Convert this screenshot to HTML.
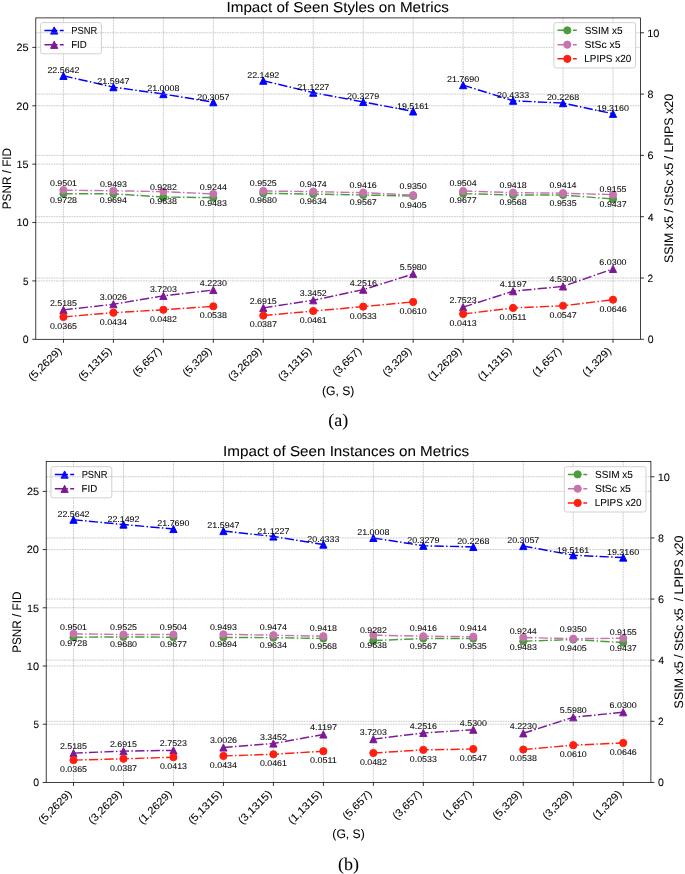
<!DOCTYPE html>
<html><head><meta charset="utf-8"><title>Impact of Seen Styles / Instances on Metrics</title>
<style>html,body{margin:0;padding:0;background:#fff;width:685px;height:874px;overflow:hidden}svg{display:block;will-change:transform}text{font-family:"Liberation Sans",sans-serif;text-rendering:geometricPrecision;stroke:#000;stroke-width:0.06px}</style>
</head><body>
<svg width="685" height="874" viewBox="0 0 685 874">
<rect width="685" height="874" fill="#fff"/>
<path d="M63.45,17.45V339.30 M113.41,17.45V339.30 M163.37,17.45V339.30 M213.33,17.45V339.30 M263.29,17.45V339.30 M313.25,17.45V339.30 M363.21,17.45V339.30 M413.17,17.45V339.30 M463.13,17.45V339.30 M513.09,17.45V339.30 M563.05,17.45V339.30 M613.01,17.45V339.30 M35.80,280.92H640.50 M35.80,222.54H640.50 M35.80,164.15H640.50 M35.80,105.77H640.50 M35.80,47.39H640.50" stroke="#9a9a9a" stroke-width="0.5" stroke-dasharray="1.78,0.77" fill="none"/>
<path d="M63.45,75.83L113.41,87.15L163.37,94.09L213.33,102.20" stroke="#0000ff" stroke-width="1.455" stroke-dasharray="9.31,2.33,1.455,2.33" fill="none"/>
<path d="M263.29,80.68L313.25,92.66L363.21,101.94L413.17,111.42" stroke="#0000ff" stroke-width="1.455" stroke-dasharray="9.31,2.33,1.455,2.33" fill="none"/>
<path d="M463.13,85.12L513.09,100.71L563.05,103.12L613.01,113.76" stroke="#0000ff" stroke-width="1.455" stroke-dasharray="9.31,2.33,1.455,2.33" fill="none"/>
<path d="M63.45,72.23L59.85,79.43L67.05,79.43Z" fill="#0000ff" stroke="#0000ff" stroke-width="0.97" stroke-linejoin="round"/>
<path d="M113.41,83.55L109.81,90.75L117.01,90.75Z" fill="#0000ff" stroke="#0000ff" stroke-width="0.97" stroke-linejoin="round"/>
<path d="M163.37,90.49L159.77,97.69L166.97,97.69Z" fill="#0000ff" stroke="#0000ff" stroke-width="0.97" stroke-linejoin="round"/>
<path d="M213.33,98.60L209.73,105.80L216.93,105.80Z" fill="#0000ff" stroke="#0000ff" stroke-width="0.97" stroke-linejoin="round"/>
<path d="M263.29,77.08L259.69,84.28L266.89,84.28Z" fill="#0000ff" stroke="#0000ff" stroke-width="0.97" stroke-linejoin="round"/>
<path d="M313.25,89.06L309.65,96.26L316.85,96.26Z" fill="#0000ff" stroke="#0000ff" stroke-width="0.97" stroke-linejoin="round"/>
<path d="M363.21,98.34L359.61,105.54L366.81,105.54Z" fill="#0000ff" stroke="#0000ff" stroke-width="0.97" stroke-linejoin="round"/>
<path d="M413.17,107.82L409.57,115.02L416.77,115.02Z" fill="#0000ff" stroke="#0000ff" stroke-width="0.97" stroke-linejoin="round"/>
<path d="M463.13,81.52L459.53,88.72L466.73,88.72Z" fill="#0000ff" stroke="#0000ff" stroke-width="0.97" stroke-linejoin="round"/>
<path d="M513.09,97.11L509.49,104.31L516.69,104.31Z" fill="#0000ff" stroke="#0000ff" stroke-width="0.97" stroke-linejoin="round"/>
<path d="M563.05,99.52L559.45,106.72L566.65,106.72Z" fill="#0000ff" stroke="#0000ff" stroke-width="0.97" stroke-linejoin="round"/>
<path d="M613.01,110.16L609.41,117.36L616.61,117.36Z" fill="#0000ff" stroke="#0000ff" stroke-width="0.97" stroke-linejoin="round"/>
<path d="M63.45,309.89L113.41,304.24L163.37,295.86L213.33,289.99" stroke="#7d1896" stroke-width="1.455" stroke-dasharray="9.31,2.33,1.455,2.33" fill="none"/>
<path d="M263.29,307.87L313.25,300.24L363.21,289.66L413.17,273.94" stroke="#7d1896" stroke-width="1.455" stroke-dasharray="9.31,2.33,1.455,2.33" fill="none"/>
<path d="M463.13,307.16L513.09,291.20L563.05,286.41L613.01,268.89" stroke="#7d1896" stroke-width="1.455" stroke-dasharray="9.31,2.33,1.455,2.33" fill="none"/>
<path d="M63.45,306.29L59.85,313.49L67.05,313.49Z" fill="#7d1896" stroke="#7d1896" stroke-width="0.97" stroke-linejoin="round"/>
<path d="M113.41,300.64L109.81,307.84L117.01,307.84Z" fill="#7d1896" stroke="#7d1896" stroke-width="0.97" stroke-linejoin="round"/>
<path d="M163.37,292.26L159.77,299.46L166.97,299.46Z" fill="#7d1896" stroke="#7d1896" stroke-width="0.97" stroke-linejoin="round"/>
<path d="M213.33,286.39L209.73,293.59L216.93,293.59Z" fill="#7d1896" stroke="#7d1896" stroke-width="0.97" stroke-linejoin="round"/>
<path d="M263.29,304.27L259.69,311.47L266.89,311.47Z" fill="#7d1896" stroke="#7d1896" stroke-width="0.97" stroke-linejoin="round"/>
<path d="M313.25,296.64L309.65,303.84L316.85,303.84Z" fill="#7d1896" stroke="#7d1896" stroke-width="0.97" stroke-linejoin="round"/>
<path d="M363.21,286.06L359.61,293.26L366.81,293.26Z" fill="#7d1896" stroke="#7d1896" stroke-width="0.97" stroke-linejoin="round"/>
<path d="M413.17,270.34L409.57,277.54L416.77,277.54Z" fill="#7d1896" stroke="#7d1896" stroke-width="0.97" stroke-linejoin="round"/>
<path d="M463.13,303.56L459.53,310.76L466.73,310.76Z" fill="#7d1896" stroke="#7d1896" stroke-width="0.97" stroke-linejoin="round"/>
<path d="M513.09,287.60L509.49,294.80L516.69,294.80Z" fill="#7d1896" stroke="#7d1896" stroke-width="0.97" stroke-linejoin="round"/>
<path d="M563.05,282.81L559.45,290.01L566.65,290.01Z" fill="#7d1896" stroke="#7d1896" stroke-width="0.97" stroke-linejoin="round"/>
<path d="M613.01,265.29L609.41,272.49L616.61,272.49Z" fill="#7d1896" stroke="#7d1896" stroke-width="0.97" stroke-linejoin="round"/>
<text x="47.45" y="73.13" font-size="8.32" textLength="31.99" lengthAdjust="spacingAndGlyphs" fill="#000">22.5642</text>
<text x="49.90" y="305.89" font-size="8.32" textLength="27.02" lengthAdjust="spacingAndGlyphs" fill="#000">2.5185</text>
<text x="97.36" y="84.45" font-size="8.32" textLength="32.11" lengthAdjust="spacingAndGlyphs" fill="#000">21.5947</text>
<text x="99.89" y="300.24" font-size="8.32" textLength="27.10" lengthAdjust="spacingAndGlyphs" fill="#000">3.0026</text>
<text x="147.25" y="91.39" font-size="8.32" textLength="32.18" lengthAdjust="spacingAndGlyphs" fill="#000">21.0008</text>
<text x="149.91" y="291.86" font-size="8.32" textLength="26.96" lengthAdjust="spacingAndGlyphs" fill="#000">3.7203</text>
<text x="197.28" y="99.50" font-size="8.32" textLength="32.11" lengthAdjust="spacingAndGlyphs" fill="#000">20.3057</text>
<text x="199.85" y="285.99" font-size="8.32" textLength="27.11" lengthAdjust="spacingAndGlyphs" fill="#000">4.2230</text>
<text x="247.29" y="77.98" font-size="8.32" textLength="31.99" lengthAdjust="spacingAndGlyphs" fill="#000">22.1492</text>
<text x="249.74" y="303.87" font-size="8.32" textLength="27.02" lengthAdjust="spacingAndGlyphs" fill="#000">2.6915</text>
<text x="297.20" y="89.96" font-size="8.32" textLength="32.11" lengthAdjust="spacingAndGlyphs" fill="#000">21.1227</text>
<text x="299.87" y="296.24" font-size="8.32" textLength="26.86" lengthAdjust="spacingAndGlyphs" fill="#000">3.3452</text>
<text x="347.09" y="99.24" font-size="8.32" textLength="32.20" lengthAdjust="spacingAndGlyphs" fill="#000">20.3279</text>
<text x="349.71" y="285.66" font-size="8.32" textLength="27.18" lengthAdjust="spacingAndGlyphs" fill="#000">4.2516</text>
<text x="397.06" y="108.72" font-size="8.32" textLength="31.98" lengthAdjust="spacingAndGlyphs" fill="#000">19.5161</text>
<text x="399.65" y="269.94" font-size="8.32" textLength="27.04" lengthAdjust="spacingAndGlyphs" fill="#000">5.5980</text>
<text x="447.00" y="82.42" font-size="8.32" textLength="32.16" lengthAdjust="spacingAndGlyphs" fill="#000">21.7690</text>
<text x="449.55" y="303.16" font-size="8.32" textLength="27.10" lengthAdjust="spacingAndGlyphs" fill="#000">2.7523</text>
<text x="497.01" y="98.01" font-size="8.32" textLength="32.09" lengthAdjust="spacingAndGlyphs" fill="#000">20.4333</text>
<text x="499.68" y="287.20" font-size="8.32" textLength="27.06" lengthAdjust="spacingAndGlyphs" fill="#000">4.1197</text>
<text x="546.93" y="100.42" font-size="8.32" textLength="32.18" lengthAdjust="spacingAndGlyphs" fill="#000">20.2268</text>
<text x="549.57" y="282.41" font-size="8.32" textLength="27.11" lengthAdjust="spacingAndGlyphs" fill="#000">4.5300</text>
<text x="596.79" y="111.06" font-size="8.32" textLength="32.10" lengthAdjust="spacingAndGlyphs" fill="#000">19.3160</text>
<text x="599.36" y="264.89" font-size="8.32" textLength="27.20" lengthAdjust="spacingAndGlyphs" fill="#000">6.0300</text>
<rect x="40.60" y="22.60" width="60.80" height="31.20" rx="2.2" fill="#fff" fill-opacity="0.8" stroke="#cccccc" stroke-width="0.9"/><path d="M44.40,30.50h19.3" stroke="#0000ff" stroke-width="1.455" stroke-dasharray="9.31,2.33,1.455,2.33" fill="none"/><path d="M54.20,26.90L50.60,34.10L57.80,34.10Z" fill="#0000ff" stroke="#0000ff" stroke-width="0.97" stroke-linejoin="round"/><text x="71.23" y="34.00" font-size="10.28" textLength="25.97" lengthAdjust="spacingAndGlyphs" fill="#000">PSNR</text><path d="M44.40,44.80h19.3" stroke="#7d1896" stroke-width="1.455" stroke-dasharray="9.31,2.33,1.455,2.33" fill="none"/><path d="M54.20,41.20L50.60,48.40L57.80,48.40Z" fill="#7d1896" stroke="#7d1896" stroke-width="0.97" stroke-linejoin="round"/><text x="71.20" y="48.30" font-size="10.28" textLength="15.65" lengthAdjust="spacingAndGlyphs" fill="#000">FID</text>
<path d="M35.80,278.00H640.50 M35.80,216.69H640.50 M35.80,155.39H640.50 M35.80,94.08H640.50 M35.80,32.78H640.50" stroke="#9a9a9a" stroke-width="0.5" stroke-dasharray="1.78,0.77" fill="none"/>
<path d="M63.45,193.69L113.41,193.81L163.37,197.04L213.33,197.62" stroke="#4b9d3b" stroke-width="1.455" stroke-dasharray="9.31,2.33,1.455,2.33" fill="none"/>
<path d="M263.29,193.32L313.25,194.10L363.21,194.99L413.17,196.00" stroke="#4b9d3b" stroke-width="1.455" stroke-dasharray="9.31,2.33,1.455,2.33" fill="none"/>
<path d="M463.13,193.64L513.09,194.96L563.05,195.02L613.01,198.99" stroke="#4b9d3b" stroke-width="1.455" stroke-dasharray="9.31,2.33,1.455,2.33" fill="none"/>
<circle cx="63.45" cy="193.69" r="3.60" fill="#4b9d3b" stroke="#4b9d3b" stroke-width="0.97"/>
<circle cx="113.41" cy="193.81" r="3.60" fill="#4b9d3b" stroke="#4b9d3b" stroke-width="0.97"/>
<circle cx="163.37" cy="197.04" r="3.60" fill="#4b9d3b" stroke="#4b9d3b" stroke-width="0.97"/>
<circle cx="213.33" cy="197.62" r="3.60" fill="#4b9d3b" stroke="#4b9d3b" stroke-width="0.97"/>
<circle cx="263.29" cy="193.32" r="3.60" fill="#4b9d3b" stroke="#4b9d3b" stroke-width="0.97"/>
<circle cx="313.25" cy="194.10" r="3.60" fill="#4b9d3b" stroke="#4b9d3b" stroke-width="0.97"/>
<circle cx="363.21" cy="194.99" r="3.60" fill="#4b9d3b" stroke="#4b9d3b" stroke-width="0.97"/>
<circle cx="413.17" cy="196.00" r="3.60" fill="#4b9d3b" stroke="#4b9d3b" stroke-width="0.97"/>
<circle cx="463.13" cy="193.64" r="3.60" fill="#4b9d3b" stroke="#4b9d3b" stroke-width="0.97"/>
<circle cx="513.09" cy="194.96" r="3.60" fill="#4b9d3b" stroke="#4b9d3b" stroke-width="0.97"/>
<circle cx="563.05" cy="195.02" r="3.60" fill="#4b9d3b" stroke="#4b9d3b" stroke-width="0.97"/>
<circle cx="613.01" cy="198.99" r="3.60" fill="#4b9d3b" stroke="#4b9d3b" stroke-width="0.97"/>
<path d="M63.45,190.21L113.41,190.73L163.37,191.59L213.33,193.96" stroke="#c673ae" stroke-width="1.455" stroke-dasharray="9.31,2.33,1.455,2.33" fill="none"/>
<path d="M263.29,190.94L313.25,191.65L363.21,192.67L413.17,195.16" stroke="#c673ae" stroke-width="1.455" stroke-dasharray="9.31,2.33,1.455,2.33" fill="none"/>
<path d="M463.13,190.99L513.09,192.66L563.05,193.16L613.01,194.67" stroke="#c673ae" stroke-width="1.455" stroke-dasharray="9.31,2.33,1.455,2.33" fill="none"/>
<circle cx="63.45" cy="190.21" r="3.60" fill="#c673ae" stroke="#c673ae" stroke-width="0.97"/>
<circle cx="113.41" cy="190.73" r="3.60" fill="#c673ae" stroke="#c673ae" stroke-width="0.97"/>
<circle cx="163.37" cy="191.59" r="3.60" fill="#c673ae" stroke="#c673ae" stroke-width="0.97"/>
<circle cx="213.33" cy="193.96" r="3.60" fill="#c673ae" stroke="#c673ae" stroke-width="0.97"/>
<circle cx="263.29" cy="190.94" r="3.60" fill="#c673ae" stroke="#c673ae" stroke-width="0.97"/>
<circle cx="313.25" cy="191.65" r="3.60" fill="#c673ae" stroke="#c673ae" stroke-width="0.97"/>
<circle cx="363.21" cy="192.67" r="3.60" fill="#c673ae" stroke="#c673ae" stroke-width="0.97"/>
<circle cx="413.17" cy="195.16" r="3.60" fill="#c673ae" stroke="#c673ae" stroke-width="0.97"/>
<circle cx="463.13" cy="190.99" r="3.60" fill="#c673ae" stroke="#c673ae" stroke-width="0.97"/>
<circle cx="513.09" cy="192.66" r="3.60" fill="#c673ae" stroke="#c673ae" stroke-width="0.97"/>
<circle cx="563.05" cy="193.16" r="3.60" fill="#c673ae" stroke="#c673ae" stroke-width="0.97"/>
<circle cx="613.01" cy="194.67" r="3.60" fill="#c673ae" stroke="#c673ae" stroke-width="0.97"/>
<path d="M63.45,316.92L113.41,312.69L163.37,309.75L213.33,306.32" stroke="#ff1f10" stroke-width="1.455" stroke-dasharray="9.31,2.33,1.455,2.33" fill="none"/>
<path d="M263.29,315.58L313.25,311.04L363.21,306.62L413.17,301.90" stroke="#ff1f10" stroke-width="1.455" stroke-dasharray="9.31,2.33,1.455,2.33" fill="none"/>
<path d="M463.13,313.98L513.09,307.97L563.05,305.77L613.01,299.70" stroke="#ff1f10" stroke-width="1.455" stroke-dasharray="9.31,2.33,1.455,2.33" fill="none"/>
<circle cx="63.45" cy="316.92" r="3.60" fill="#ff1f10" stroke="#ff1f10" stroke-width="0.97"/>
<circle cx="113.41" cy="312.69" r="3.60" fill="#ff1f10" stroke="#ff1f10" stroke-width="0.97"/>
<circle cx="163.37" cy="309.75" r="3.60" fill="#ff1f10" stroke="#ff1f10" stroke-width="0.97"/>
<circle cx="213.33" cy="306.32" r="3.60" fill="#ff1f10" stroke="#ff1f10" stroke-width="0.97"/>
<circle cx="263.29" cy="315.58" r="3.60" fill="#ff1f10" stroke="#ff1f10" stroke-width="0.97"/>
<circle cx="313.25" cy="311.04" r="3.60" fill="#ff1f10" stroke="#ff1f10" stroke-width="0.97"/>
<circle cx="363.21" cy="306.62" r="3.60" fill="#ff1f10" stroke="#ff1f10" stroke-width="0.97"/>
<circle cx="413.17" cy="301.90" r="3.60" fill="#ff1f10" stroke="#ff1f10" stroke-width="0.97"/>
<circle cx="463.13" cy="313.98" r="3.60" fill="#ff1f10" stroke="#ff1f10" stroke-width="0.97"/>
<circle cx="513.09" cy="307.97" r="3.60" fill="#ff1f10" stroke="#ff1f10" stroke-width="0.97"/>
<circle cx="563.05" cy="305.77" r="3.60" fill="#ff1f10" stroke="#ff1f10" stroke-width="0.97"/>
<circle cx="613.01" cy="299.70" r="3.60" fill="#ff1f10" stroke="#ff1f10" stroke-width="0.97"/>
<text x="49.99" y="186.49" font-size="8.32" textLength="27.00" lengthAdjust="spacingAndGlyphs" fill="#000">0.9501</text>
<text x="49.90" y="202.66" font-size="8.32" textLength="27.15" lengthAdjust="spacingAndGlyphs" fill="#000">0.9728</text>
<text x="49.97" y="328.82" font-size="8.32" textLength="26.98" lengthAdjust="spacingAndGlyphs" fill="#000">0.0365</text>
<text x="99.90" y="186.61" font-size="8.32" textLength="27.06" lengthAdjust="spacingAndGlyphs" fill="#000">0.9493</text>
<text x="99.81" y="203.18" font-size="8.32" textLength="27.12" lengthAdjust="spacingAndGlyphs" fill="#000">0.9694</text>
<text x="99.81" y="324.59" font-size="8.32" textLength="27.12" lengthAdjust="spacingAndGlyphs" fill="#000">0.0434</text>
<text x="149.94" y="189.84" font-size="8.32" textLength="26.95" lengthAdjust="spacingAndGlyphs" fill="#000">0.9282</text>
<text x="149.82" y="204.04" font-size="8.32" textLength="27.15" lengthAdjust="spacingAndGlyphs" fill="#000">0.9638</text>
<text x="149.94" y="321.65" font-size="8.32" textLength="26.95" lengthAdjust="spacingAndGlyphs" fill="#000">0.0482</text>
<text x="199.73" y="190.42" font-size="8.32" textLength="27.12" lengthAdjust="spacingAndGlyphs" fill="#000">0.9244</text>
<text x="199.82" y="206.41" font-size="8.32" textLength="27.06" lengthAdjust="spacingAndGlyphs" fill="#000">0.9483</text>
<text x="199.78" y="318.22" font-size="8.32" textLength="27.15" lengthAdjust="spacingAndGlyphs" fill="#000">0.0538</text>
<text x="249.81" y="186.12" font-size="8.32" textLength="26.98" lengthAdjust="spacingAndGlyphs" fill="#000">0.9525</text>
<text x="249.73" y="203.39" font-size="8.32" textLength="27.12" lengthAdjust="spacingAndGlyphs" fill="#000">0.9680</text>
<text x="249.80" y="327.48" font-size="8.32" textLength="27.07" lengthAdjust="spacingAndGlyphs" fill="#000">0.0387</text>
<text x="299.65" y="186.90" font-size="8.32" textLength="27.12" lengthAdjust="spacingAndGlyphs" fill="#000">0.9474</text>
<text x="299.65" y="204.10" font-size="8.32" textLength="27.12" lengthAdjust="spacingAndGlyphs" fill="#000">0.9634</text>
<text x="299.79" y="322.94" font-size="8.32" textLength="27.00" lengthAdjust="spacingAndGlyphs" fill="#000">0.0461</text>
<text x="349.63" y="187.79" font-size="8.32" textLength="27.19" lengthAdjust="spacingAndGlyphs" fill="#000">0.9416</text>
<text x="349.72" y="205.12" font-size="8.32" textLength="27.07" lengthAdjust="spacingAndGlyphs" fill="#000">0.9567</text>
<text x="349.70" y="318.52" font-size="8.32" textLength="27.06" lengthAdjust="spacingAndGlyphs" fill="#000">0.0533</text>
<text x="399.61" y="188.80" font-size="8.32" textLength="27.12" lengthAdjust="spacingAndGlyphs" fill="#000">0.9350</text>
<text x="399.69" y="207.61" font-size="8.32" textLength="26.98" lengthAdjust="spacingAndGlyphs" fill="#000">0.9405</text>
<text x="399.61" y="313.80" font-size="8.32" textLength="27.12" lengthAdjust="spacingAndGlyphs" fill="#000">0.0610</text>
<text x="449.53" y="186.44" font-size="8.32" textLength="27.12" lengthAdjust="spacingAndGlyphs" fill="#000">0.9504</text>
<text x="449.64" y="203.44" font-size="8.32" textLength="27.07" lengthAdjust="spacingAndGlyphs" fill="#000">0.9677</text>
<text x="449.62" y="325.88" font-size="8.32" textLength="27.06" lengthAdjust="spacingAndGlyphs" fill="#000">0.0413</text>
<text x="499.54" y="187.76" font-size="8.32" textLength="27.15" lengthAdjust="spacingAndGlyphs" fill="#000">0.9418</text>
<text x="499.54" y="205.11" font-size="8.32" textLength="27.15" lengthAdjust="spacingAndGlyphs" fill="#000">0.9568</text>
<text x="499.63" y="319.87" font-size="8.32" textLength="27.00" lengthAdjust="spacingAndGlyphs" fill="#000">0.0511</text>
<text x="549.45" y="187.82" font-size="8.32" textLength="27.12" lengthAdjust="spacingAndGlyphs" fill="#000">0.9414</text>
<text x="549.57" y="205.61" font-size="8.32" textLength="26.98" lengthAdjust="spacingAndGlyphs" fill="#000">0.9535</text>
<text x="549.56" y="317.67" font-size="8.32" textLength="27.07" lengthAdjust="spacingAndGlyphs" fill="#000">0.0547</text>
<text x="599.53" y="191.79" font-size="8.32" textLength="26.98" lengthAdjust="spacingAndGlyphs" fill="#000">0.9155</text>
<text x="599.52" y="207.12" font-size="8.32" textLength="27.07" lengthAdjust="spacingAndGlyphs" fill="#000">0.9437</text>
<text x="599.43" y="311.60" font-size="8.32" textLength="27.19" lengthAdjust="spacingAndGlyphs" fill="#000">0.0646</text>
<rect x="553.90" y="22.65" width="81.70" height="45.30" rx="2.2" fill="#fff" fill-opacity="0.8" stroke="#cccccc" stroke-width="0.9"/><path d="M557.50,30.35h19.3" stroke="#4b9d3b" stroke-width="1.455" stroke-dasharray="9.31,2.33,1.455,2.33" fill="none"/><circle cx="567.30" cy="30.35" r="3.60" fill="#4b9d3b" stroke="#4b9d3b" stroke-width="0.97"/><text x="584.64" y="33.85" font-size="10.28" textLength="37.93" lengthAdjust="spacingAndGlyphs" fill="#000">SSIM x5</text><path d="M557.50,44.65h19.3" stroke="#c673ae" stroke-width="1.455" stroke-dasharray="9.31,2.33,1.455,2.33" fill="none"/><circle cx="567.30" cy="44.65" r="3.60" fill="#c673ae" stroke="#c673ae" stroke-width="0.97"/><text x="584.63" y="48.15" font-size="10.28" textLength="35.87" lengthAdjust="spacingAndGlyphs" fill="#000">StSc x5</text><path d="M557.50,58.85h19.3" stroke="#ff1f10" stroke-width="1.455" stroke-dasharray="9.31,2.33,1.455,2.33" fill="none"/><circle cx="567.30" cy="58.85" r="3.60" fill="#ff1f10" stroke="#ff1f10" stroke-width="0.97"/><text x="584.29" y="62.35" font-size="10.28" textLength="46.89" lengthAdjust="spacingAndGlyphs" fill="#000">LPIPS x20</text>
<rect x="35.80" y="17.90" width="604.70" height="321.40" fill="none" stroke="#000" stroke-width="0.75"/>
<path d="M63.45,339.30v3.5 M113.41,339.30v3.5 M163.37,339.30v3.5 M213.33,339.30v3.5 M263.29,339.30v3.5 M313.25,339.30v3.5 M363.21,339.30v3.5 M413.17,339.30v3.5 M463.13,339.30v3.5 M513.09,339.30v3.5 M563.05,339.30v3.5 M613.01,339.30v3.5 M35.80,339.30h-3.5 M35.80,280.92h-3.5 M35.80,222.54h-3.5 M35.80,164.15h-3.5 M35.80,105.77h-3.5 M35.80,47.39h-3.5 M640.50,339.30h3.5 M640.50,278.00h3.5 M640.50,216.69h3.5 M640.50,155.39h3.5 M640.50,94.08h3.5 M640.50,32.78h3.5" stroke="#000" stroke-width="0.8" fill="none"/>
<text x="22.75" y="343.15" font-size="10.60" textLength="5.86" lengthAdjust="spacingAndGlyphs" fill="#000">0</text>
<text x="23.08" y="284.77" font-size="10.60" textLength="5.53" lengthAdjust="spacingAndGlyphs" fill="#000">5</text>
<text x="16.40" y="226.39" font-size="10.60" textLength="12.23" lengthAdjust="spacingAndGlyphs" fill="#000">10</text>
<text x="16.62" y="168.00" font-size="10.60" textLength="12.03" lengthAdjust="spacingAndGlyphs" fill="#000">15</text>
<text x="16.31" y="109.62" font-size="10.60" textLength="12.32" lengthAdjust="spacingAndGlyphs" fill="#000">20</text>
<text x="16.53" y="51.24" font-size="10.60" textLength="12.12" lengthAdjust="spacingAndGlyphs" fill="#000">25</text>
<text x="647.69" y="343.15" font-size="10.60" textLength="5.86" lengthAdjust="spacingAndGlyphs" fill="#000">0</text>
<text x="647.59" y="281.85" font-size="10.60" textLength="5.65" lengthAdjust="spacingAndGlyphs" fill="#000">2</text>
<text x="647.86" y="220.54" font-size="10.60" textLength="5.86" lengthAdjust="spacingAndGlyphs" fill="#000">4</text>
<text x="647.55" y="159.24" font-size="10.60" textLength="6.07" lengthAdjust="spacingAndGlyphs" fill="#000">6</text>
<text x="647.64" y="97.93" font-size="10.60" textLength="5.93" lengthAdjust="spacingAndGlyphs" fill="#000">8</text>
<text x="647.26" y="36.63" font-size="10.60" textLength="12.23" lengthAdjust="spacingAndGlyphs" fill="#000">10</text>
<text x="32.23" y="381.02" font-size="10.60" textLength="42.49" lengthAdjust="spacingAndGlyphs" fill="#000" transform="rotate(-45 32.94 381.02)">(5,2629)</text>
<text x="82.19" y="381.02" font-size="10.60" textLength="42.49" lengthAdjust="spacingAndGlyphs" fill="#000" transform="rotate(-45 82.90 381.02)">(5,1315)</text>
<text x="136.65" y="376.52" font-size="10.60" textLength="36.13" lengthAdjust="spacingAndGlyphs" fill="#000" transform="rotate(-45 137.35 376.52)">(5,657)</text>
<text x="186.61" y="376.52" font-size="10.60" textLength="36.13" lengthAdjust="spacingAndGlyphs" fill="#000" transform="rotate(-45 187.31 376.52)">(5,329)</text>
<text x="232.07" y="381.02" font-size="10.60" textLength="42.49" lengthAdjust="spacingAndGlyphs" fill="#000" transform="rotate(-45 232.78 381.02)">(3,2629)</text>
<text x="282.03" y="381.02" font-size="10.60" textLength="42.49" lengthAdjust="spacingAndGlyphs" fill="#000" transform="rotate(-45 282.74 381.02)">(3,1315)</text>
<text x="336.49" y="376.52" font-size="10.60" textLength="36.13" lengthAdjust="spacingAndGlyphs" fill="#000" transform="rotate(-45 337.19 376.52)">(3,657)</text>
<text x="386.45" y="376.52" font-size="10.60" textLength="36.13" lengthAdjust="spacingAndGlyphs" fill="#000" transform="rotate(-45 387.15 376.52)">(3,329)</text>
<text x="431.91" y="381.02" font-size="10.60" textLength="42.49" lengthAdjust="spacingAndGlyphs" fill="#000" transform="rotate(-45 432.62 381.02)">(1,2629)</text>
<text x="481.87" y="381.02" font-size="10.60" textLength="42.49" lengthAdjust="spacingAndGlyphs" fill="#000" transform="rotate(-45 482.58 381.02)">(1,1315)</text>
<text x="536.33" y="376.52" font-size="10.60" textLength="36.13" lengthAdjust="spacingAndGlyphs" fill="#000" transform="rotate(-45 537.03 376.52)">(1,657)</text>
<text x="586.29" y="376.52" font-size="10.60" textLength="36.13" lengthAdjust="spacingAndGlyphs" fill="#000" transform="rotate(-45 586.99 376.52)">(1,329)</text>
<text x="-19.88" y="178.38" font-size="12.35" textLength="61.36" lengthAdjust="spacingAndGlyphs" fill="#000" transform="rotate(-90 11.00 178.38)">PSNR / FID</text>
<text x="588.05" y="178.38" font-size="12.35" textLength="169.02" lengthAdjust="spacingAndGlyphs" fill="#000" transform="rotate(-90 672.60 178.38)" xml:space="preserve">SSIM x5 / StSc x5 / LPIPS x20</text>
<text x="321.94" y="394.50" font-size="12.35" textLength="32.43" lengthAdjust="spacingAndGlyphs" fill="#000">(G, S)</text>
<text x="226.50" y="11.85" font-size="14.36" textLength="222.44" lengthAdjust="spacingAndGlyphs" fill="#000">Impact of Seen Styles on Metrics</text>
<text x="338.15" y="425.80" style='font-family:"Liberation Serif", serif;font-size:18.00px' text-anchor="middle" fill="#000">(a)</text>
<path d="M73.50,461.50V782.45 M123.47,461.50V782.45 M173.45,461.50V782.45 M223.43,461.50V782.45 M273.40,461.50V782.45 M323.38,461.50V782.45 M373.35,461.50V782.45 M423.32,461.50V782.45 M473.30,461.50V782.45 M523.28,461.50V782.45 M573.25,461.50V782.45 M623.23,461.50V782.45 M46.20,724.23H650.90 M46.20,666.01H650.90 M46.20,607.79H650.90 M46.20,549.58H650.90 M46.20,491.36H650.90" stroke="#9a9a9a" stroke-width="0.5" stroke-dasharray="1.78,0.77" fill="none"/>
<path d="M73.50,519.72L123.47,524.55L173.45,528.98" stroke="#0000ff" stroke-width="1.455" stroke-dasharray="9.31,2.33,1.455,2.33" fill="none"/>
<path d="M223.43,531.01L273.40,536.50L323.38,544.53" stroke="#0000ff" stroke-width="1.455" stroke-dasharray="9.31,2.33,1.455,2.33" fill="none"/>
<path d="M373.35,537.92L423.32,545.76L473.30,546.93" stroke="#0000ff" stroke-width="1.455" stroke-dasharray="9.31,2.33,1.455,2.33" fill="none"/>
<path d="M523.28,546.02L573.25,555.21L623.23,557.54" stroke="#0000ff" stroke-width="1.455" stroke-dasharray="9.31,2.33,1.455,2.33" fill="none"/>
<path d="M73.50,516.12L69.90,523.32L77.10,523.32Z" fill="#0000ff" stroke="#0000ff" stroke-width="0.97" stroke-linejoin="round"/>
<path d="M123.47,520.95L119.88,528.15L127.07,528.15Z" fill="#0000ff" stroke="#0000ff" stroke-width="0.97" stroke-linejoin="round"/>
<path d="M173.45,525.38L169.85,532.58L177.05,532.58Z" fill="#0000ff" stroke="#0000ff" stroke-width="0.97" stroke-linejoin="round"/>
<path d="M223.43,527.41L219.83,534.61L227.03,534.61Z" fill="#0000ff" stroke="#0000ff" stroke-width="0.97" stroke-linejoin="round"/>
<path d="M273.40,532.90L269.80,540.10L277.00,540.10Z" fill="#0000ff" stroke="#0000ff" stroke-width="0.97" stroke-linejoin="round"/>
<path d="M323.38,540.93L319.77,548.13L326.98,548.13Z" fill="#0000ff" stroke="#0000ff" stroke-width="0.97" stroke-linejoin="round"/>
<path d="M373.35,534.32L369.75,541.52L376.95,541.52Z" fill="#0000ff" stroke="#0000ff" stroke-width="0.97" stroke-linejoin="round"/>
<path d="M423.32,542.16L419.72,549.36L426.93,549.36Z" fill="#0000ff" stroke="#0000ff" stroke-width="0.97" stroke-linejoin="round"/>
<path d="M473.30,543.33L469.70,550.53L476.90,550.53Z" fill="#0000ff" stroke="#0000ff" stroke-width="0.97" stroke-linejoin="round"/>
<path d="M523.28,542.42L519.68,549.62L526.88,549.62Z" fill="#0000ff" stroke="#0000ff" stroke-width="0.97" stroke-linejoin="round"/>
<path d="M573.25,551.61L569.65,558.81L576.85,558.81Z" fill="#0000ff" stroke="#0000ff" stroke-width="0.97" stroke-linejoin="round"/>
<path d="M623.23,553.94L619.62,561.14L626.83,561.14Z" fill="#0000ff" stroke="#0000ff" stroke-width="0.97" stroke-linejoin="round"/>
<path d="M73.50,753.13L123.47,751.11L173.45,750.40" stroke="#7d1896" stroke-width="1.455" stroke-dasharray="9.31,2.33,1.455,2.33" fill="none"/>
<path d="M223.43,747.49L273.40,743.50L323.38,734.48" stroke="#7d1896" stroke-width="1.455" stroke-dasharray="9.31,2.33,1.455,2.33" fill="none"/>
<path d="M373.35,739.13L423.32,732.95L473.30,729.70" stroke="#7d1896" stroke-width="1.455" stroke-dasharray="9.31,2.33,1.455,2.33" fill="none"/>
<path d="M523.28,733.28L573.25,717.27L623.23,712.24" stroke="#7d1896" stroke-width="1.455" stroke-dasharray="9.31,2.33,1.455,2.33" fill="none"/>
<path d="M73.50,749.53L69.90,756.73L77.10,756.73Z" fill="#7d1896" stroke="#7d1896" stroke-width="0.97" stroke-linejoin="round"/>
<path d="M123.47,747.51L119.88,754.71L127.07,754.71Z" fill="#7d1896" stroke="#7d1896" stroke-width="0.97" stroke-linejoin="round"/>
<path d="M173.45,746.80L169.85,754.00L177.05,754.00Z" fill="#7d1896" stroke="#7d1896" stroke-width="0.97" stroke-linejoin="round"/>
<path d="M223.43,743.89L219.83,751.09L227.03,751.09Z" fill="#7d1896" stroke="#7d1896" stroke-width="0.97" stroke-linejoin="round"/>
<path d="M273.40,739.90L269.80,747.10L277.00,747.10Z" fill="#7d1896" stroke="#7d1896" stroke-width="0.97" stroke-linejoin="round"/>
<path d="M323.38,730.88L319.77,738.08L326.98,738.08Z" fill="#7d1896" stroke="#7d1896" stroke-width="0.97" stroke-linejoin="round"/>
<path d="M373.35,735.53L369.75,742.73L376.95,742.73Z" fill="#7d1896" stroke="#7d1896" stroke-width="0.97" stroke-linejoin="round"/>
<path d="M423.32,729.35L419.72,736.55L426.93,736.55Z" fill="#7d1896" stroke="#7d1896" stroke-width="0.97" stroke-linejoin="round"/>
<path d="M473.30,726.10L469.70,733.30L476.90,733.30Z" fill="#7d1896" stroke="#7d1896" stroke-width="0.97" stroke-linejoin="round"/>
<path d="M523.28,729.68L519.68,736.88L526.88,736.88Z" fill="#7d1896" stroke="#7d1896" stroke-width="0.97" stroke-linejoin="round"/>
<path d="M573.25,713.67L569.65,720.87L576.85,720.87Z" fill="#7d1896" stroke="#7d1896" stroke-width="0.97" stroke-linejoin="round"/>
<path d="M623.23,708.64L619.62,715.84L626.83,715.84Z" fill="#7d1896" stroke="#7d1896" stroke-width="0.97" stroke-linejoin="round"/>
<text x="57.50" y="517.02" font-size="8.32" textLength="31.99" lengthAdjust="spacingAndGlyphs" fill="#000">22.5642</text>
<text x="59.95" y="749.13" font-size="8.32" textLength="27.02" lengthAdjust="spacingAndGlyphs" fill="#000">2.5185</text>
<text x="107.48" y="521.85" font-size="8.32" textLength="31.99" lengthAdjust="spacingAndGlyphs" fill="#000">22.1492</text>
<text x="109.93" y="747.11" font-size="8.32" textLength="27.02" lengthAdjust="spacingAndGlyphs" fill="#000">2.6915</text>
<text x="157.32" y="526.28" font-size="8.32" textLength="32.16" lengthAdjust="spacingAndGlyphs" fill="#000">21.7690</text>
<text x="159.87" y="746.40" font-size="8.32" textLength="27.10" lengthAdjust="spacingAndGlyphs" fill="#000">2.7523</text>
<text x="207.37" y="528.31" font-size="8.32" textLength="32.11" lengthAdjust="spacingAndGlyphs" fill="#000">21.5947</text>
<text x="209.90" y="743.49" font-size="8.32" textLength="27.10" lengthAdjust="spacingAndGlyphs" fill="#000">3.0026</text>
<text x="257.35" y="533.80" font-size="8.32" textLength="32.11" lengthAdjust="spacingAndGlyphs" fill="#000">21.1227</text>
<text x="260.02" y="739.50" font-size="8.32" textLength="26.86" lengthAdjust="spacingAndGlyphs" fill="#000">3.3452</text>
<text x="307.30" y="541.83" font-size="8.32" textLength="32.09" lengthAdjust="spacingAndGlyphs" fill="#000">20.4333</text>
<text x="309.97" y="730.48" font-size="8.32" textLength="27.06" lengthAdjust="spacingAndGlyphs" fill="#000">4.1197</text>
<text x="357.23" y="535.22" font-size="8.32" textLength="32.18" lengthAdjust="spacingAndGlyphs" fill="#000">21.0008</text>
<text x="359.89" y="735.13" font-size="8.32" textLength="26.96" lengthAdjust="spacingAndGlyphs" fill="#000">3.7203</text>
<text x="407.21" y="543.06" font-size="8.32" textLength="32.20" lengthAdjust="spacingAndGlyphs" fill="#000">20.3279</text>
<text x="409.83" y="728.95" font-size="8.32" textLength="27.18" lengthAdjust="spacingAndGlyphs" fill="#000">4.2516</text>
<text x="457.18" y="544.23" font-size="8.32" textLength="32.18" lengthAdjust="spacingAndGlyphs" fill="#000">20.2268</text>
<text x="459.82" y="725.70" font-size="8.32" textLength="27.11" lengthAdjust="spacingAndGlyphs" fill="#000">4.5300</text>
<text x="507.22" y="543.32" font-size="8.32" textLength="32.11" lengthAdjust="spacingAndGlyphs" fill="#000">20.3057</text>
<text x="509.79" y="729.28" font-size="8.32" textLength="27.11" lengthAdjust="spacingAndGlyphs" fill="#000">4.2230</text>
<text x="557.14" y="552.51" font-size="8.32" textLength="31.98" lengthAdjust="spacingAndGlyphs" fill="#000">19.5161</text>
<text x="559.73" y="713.27" font-size="8.32" textLength="27.04" lengthAdjust="spacingAndGlyphs" fill="#000">5.5980</text>
<text x="607.01" y="554.84" font-size="8.32" textLength="32.10" lengthAdjust="spacingAndGlyphs" fill="#000">19.3160</text>
<text x="609.57" y="708.24" font-size="8.32" textLength="27.20" lengthAdjust="spacingAndGlyphs" fill="#000">6.0300</text>
<rect x="51.00" y="466.65" width="60.80" height="31.20" rx="2.2" fill="#fff" fill-opacity="0.8" stroke="#cccccc" stroke-width="0.9"/><path d="M54.80,474.55h19.3" stroke="#0000ff" stroke-width="1.455" stroke-dasharray="9.31,2.33,1.455,2.33" fill="none"/><path d="M64.60,470.95L61.00,478.15L68.20,478.15Z" fill="#0000ff" stroke="#0000ff" stroke-width="0.97" stroke-linejoin="round"/><text x="81.63" y="478.05" font-size="10.28" textLength="25.97" lengthAdjust="spacingAndGlyphs" fill="#000">PSNR</text><path d="M54.80,488.85h19.3" stroke="#7d1896" stroke-width="1.455" stroke-dasharray="9.31,2.33,1.455,2.33" fill="none"/><path d="M64.60,485.25L61.00,492.45L68.20,492.45Z" fill="#7d1896" stroke="#7d1896" stroke-width="0.97" stroke-linejoin="round"/><text x="81.60" y="492.35" font-size="10.28" textLength="15.65" lengthAdjust="spacingAndGlyphs" fill="#000">FID</text>
<path d="M46.20,721.32H650.90 M46.20,660.18H650.90 M46.20,599.05H650.90 M46.20,537.92H650.90 M46.20,476.78H650.90" stroke="#9a9a9a" stroke-width="0.5" stroke-dasharray="1.78,0.77" fill="none"/>
<path d="M73.50,637.24L123.47,636.88L173.45,637.20" stroke="#4b9d3b" stroke-width="1.455" stroke-dasharray="9.31,2.33,1.455,2.33" fill="none"/>
<path d="M223.43,637.37L273.40,637.66L323.38,638.51" stroke="#4b9d3b" stroke-width="1.455" stroke-dasharray="9.31,2.33,1.455,2.33" fill="none"/>
<path d="M373.35,640.59L423.32,638.54L473.30,638.57" stroke="#4b9d3b" stroke-width="1.455" stroke-dasharray="9.31,2.33,1.455,2.33" fill="none"/>
<path d="M523.28,641.17L573.25,639.55L623.23,642.53" stroke="#4b9d3b" stroke-width="1.455" stroke-dasharray="9.31,2.33,1.455,2.33" fill="none"/>
<circle cx="73.50" cy="637.24" r="3.60" fill="#4b9d3b" stroke="#4b9d3b" stroke-width="0.97"/>
<circle cx="123.47" cy="636.88" r="3.60" fill="#4b9d3b" stroke="#4b9d3b" stroke-width="0.97"/>
<circle cx="173.45" cy="637.20" r="3.60" fill="#4b9d3b" stroke="#4b9d3b" stroke-width="0.97"/>
<circle cx="223.43" cy="637.37" r="3.60" fill="#4b9d3b" stroke="#4b9d3b" stroke-width="0.97"/>
<circle cx="273.40" cy="637.66" r="3.60" fill="#4b9d3b" stroke="#4b9d3b" stroke-width="0.97"/>
<circle cx="323.38" cy="638.51" r="3.60" fill="#4b9d3b" stroke="#4b9d3b" stroke-width="0.97"/>
<circle cx="373.35" cy="640.59" r="3.60" fill="#4b9d3b" stroke="#4b9d3b" stroke-width="0.97"/>
<circle cx="423.32" cy="638.54" r="3.60" fill="#4b9d3b" stroke="#4b9d3b" stroke-width="0.97"/>
<circle cx="473.30" cy="638.57" r="3.60" fill="#4b9d3b" stroke="#4b9d3b" stroke-width="0.97"/>
<circle cx="523.28" cy="641.17" r="3.60" fill="#4b9d3b" stroke="#4b9d3b" stroke-width="0.97"/>
<circle cx="573.25" cy="639.55" r="3.60" fill="#4b9d3b" stroke="#4b9d3b" stroke-width="0.97"/>
<circle cx="623.23" cy="642.53" r="3.60" fill="#4b9d3b" stroke="#4b9d3b" stroke-width="0.97"/>
<path d="M73.50,633.77L123.47,634.51L173.45,634.55" stroke="#c673ae" stroke-width="1.455" stroke-dasharray="9.31,2.33,1.455,2.33" fill="none"/>
<path d="M223.43,634.29L273.40,635.21L323.38,636.22" stroke="#c673ae" stroke-width="1.455" stroke-dasharray="9.31,2.33,1.455,2.33" fill="none"/>
<path d="M373.35,635.15L423.32,636.23L473.30,636.72" stroke="#c673ae" stroke-width="1.455" stroke-dasharray="9.31,2.33,1.455,2.33" fill="none"/>
<path d="M523.28,637.52L573.25,638.71L623.23,638.22" stroke="#c673ae" stroke-width="1.455" stroke-dasharray="9.31,2.33,1.455,2.33" fill="none"/>
<circle cx="73.50" cy="633.77" r="3.60" fill="#c673ae" stroke="#c673ae" stroke-width="0.97"/>
<circle cx="123.47" cy="634.51" r="3.60" fill="#c673ae" stroke="#c673ae" stroke-width="0.97"/>
<circle cx="173.45" cy="634.55" r="3.60" fill="#c673ae" stroke="#c673ae" stroke-width="0.97"/>
<circle cx="223.43" cy="634.29" r="3.60" fill="#c673ae" stroke="#c673ae" stroke-width="0.97"/>
<circle cx="273.40" cy="635.21" r="3.60" fill="#c673ae" stroke="#c673ae" stroke-width="0.97"/>
<circle cx="323.38" cy="636.22" r="3.60" fill="#c673ae" stroke="#c673ae" stroke-width="0.97"/>
<circle cx="373.35" cy="635.15" r="3.60" fill="#c673ae" stroke="#c673ae" stroke-width="0.97"/>
<circle cx="423.32" cy="636.23" r="3.60" fill="#c673ae" stroke="#c673ae" stroke-width="0.97"/>
<circle cx="473.30" cy="636.72" r="3.60" fill="#c673ae" stroke="#c673ae" stroke-width="0.97"/>
<circle cx="523.28" cy="637.52" r="3.60" fill="#c673ae" stroke="#c673ae" stroke-width="0.97"/>
<circle cx="573.25" cy="638.71" r="3.60" fill="#c673ae" stroke="#c673ae" stroke-width="0.97"/>
<circle cx="623.23" cy="638.22" r="3.60" fill="#c673ae" stroke="#c673ae" stroke-width="0.97"/>
<path d="M73.50,760.14L123.47,758.79L173.45,757.20" stroke="#ff1f10" stroke-width="1.455" stroke-dasharray="9.31,2.33,1.455,2.33" fill="none"/>
<path d="M223.43,755.92L273.40,754.27L323.38,751.21" stroke="#ff1f10" stroke-width="1.455" stroke-dasharray="9.31,2.33,1.455,2.33" fill="none"/>
<path d="M373.35,752.98L423.32,749.87L473.30,749.01" stroke="#ff1f10" stroke-width="1.455" stroke-dasharray="9.31,2.33,1.455,2.33" fill="none"/>
<path d="M523.28,749.56L573.25,745.16L623.23,742.96" stroke="#ff1f10" stroke-width="1.455" stroke-dasharray="9.31,2.33,1.455,2.33" fill="none"/>
<circle cx="73.50" cy="760.14" r="3.60" fill="#ff1f10" stroke="#ff1f10" stroke-width="0.97"/>
<circle cx="123.47" cy="758.79" r="3.60" fill="#ff1f10" stroke="#ff1f10" stroke-width="0.97"/>
<circle cx="173.45" cy="757.20" r="3.60" fill="#ff1f10" stroke="#ff1f10" stroke-width="0.97"/>
<circle cx="223.43" cy="755.92" r="3.60" fill="#ff1f10" stroke="#ff1f10" stroke-width="0.97"/>
<circle cx="273.40" cy="754.27" r="3.60" fill="#ff1f10" stroke="#ff1f10" stroke-width="0.97"/>
<circle cx="323.38" cy="751.21" r="3.60" fill="#ff1f10" stroke="#ff1f10" stroke-width="0.97"/>
<circle cx="373.35" cy="752.98" r="3.60" fill="#ff1f10" stroke="#ff1f10" stroke-width="0.97"/>
<circle cx="423.32" cy="749.87" r="3.60" fill="#ff1f10" stroke="#ff1f10" stroke-width="0.97"/>
<circle cx="473.30" cy="749.01" r="3.60" fill="#ff1f10" stroke="#ff1f10" stroke-width="0.97"/>
<circle cx="523.28" cy="749.56" r="3.60" fill="#ff1f10" stroke="#ff1f10" stroke-width="0.97"/>
<circle cx="573.25" cy="745.16" r="3.60" fill="#ff1f10" stroke="#ff1f10" stroke-width="0.97"/>
<circle cx="623.23" cy="742.96" r="3.60" fill="#ff1f10" stroke="#ff1f10" stroke-width="0.97"/>
<text x="60.04" y="630.04" font-size="8.32" textLength="27.00" lengthAdjust="spacingAndGlyphs" fill="#000">0.9501</text>
<text x="59.95" y="646.22" font-size="8.32" textLength="27.15" lengthAdjust="spacingAndGlyphs" fill="#000">0.9728</text>
<text x="60.02" y="772.04" font-size="8.32" textLength="26.98" lengthAdjust="spacingAndGlyphs" fill="#000">0.0365</text>
<text x="110.00" y="629.68" font-size="8.32" textLength="26.98" lengthAdjust="spacingAndGlyphs" fill="#000">0.9525</text>
<text x="109.91" y="646.96" font-size="8.32" textLength="27.12" lengthAdjust="spacingAndGlyphs" fill="#000">0.9680</text>
<text x="109.99" y="770.69" font-size="8.32" textLength="27.07" lengthAdjust="spacingAndGlyphs" fill="#000">0.0387</text>
<text x="159.85" y="630.00" font-size="8.32" textLength="27.12" lengthAdjust="spacingAndGlyphs" fill="#000">0.9504</text>
<text x="159.96" y="647.00" font-size="8.32" textLength="27.07" lengthAdjust="spacingAndGlyphs" fill="#000">0.9677</text>
<text x="159.94" y="769.10" font-size="8.32" textLength="27.06" lengthAdjust="spacingAndGlyphs" fill="#000">0.0413</text>
<text x="209.92" y="630.17" font-size="8.32" textLength="27.06" lengthAdjust="spacingAndGlyphs" fill="#000">0.9493</text>
<text x="209.82" y="646.74" font-size="8.32" textLength="27.12" lengthAdjust="spacingAndGlyphs" fill="#000">0.9694</text>
<text x="209.82" y="767.82" font-size="8.32" textLength="27.12" lengthAdjust="spacingAndGlyphs" fill="#000">0.0434</text>
<text x="259.80" y="630.46" font-size="8.32" textLength="27.12" lengthAdjust="spacingAndGlyphs" fill="#000">0.9474</text>
<text x="259.80" y="647.66" font-size="8.32" textLength="27.12" lengthAdjust="spacingAndGlyphs" fill="#000">0.9634</text>
<text x="259.94" y="766.17" font-size="8.32" textLength="27.00" lengthAdjust="spacingAndGlyphs" fill="#000">0.0461</text>
<text x="309.82" y="631.31" font-size="8.32" textLength="27.15" lengthAdjust="spacingAndGlyphs" fill="#000">0.9418</text>
<text x="309.82" y="648.67" font-size="8.32" textLength="27.15" lengthAdjust="spacingAndGlyphs" fill="#000">0.9568</text>
<text x="309.92" y="763.11" font-size="8.32" textLength="27.00" lengthAdjust="spacingAndGlyphs" fill="#000">0.0511</text>
<text x="359.92" y="633.39" font-size="8.32" textLength="26.95" lengthAdjust="spacingAndGlyphs" fill="#000">0.9282</text>
<text x="359.80" y="647.60" font-size="8.32" textLength="27.15" lengthAdjust="spacingAndGlyphs" fill="#000">0.9638</text>
<text x="359.92" y="764.88" font-size="8.32" textLength="26.95" lengthAdjust="spacingAndGlyphs" fill="#000">0.0482</text>
<text x="409.75" y="631.34" font-size="8.32" textLength="27.19" lengthAdjust="spacingAndGlyphs" fill="#000">0.9416</text>
<text x="409.84" y="648.68" font-size="8.32" textLength="27.07" lengthAdjust="spacingAndGlyphs" fill="#000">0.9567</text>
<text x="409.82" y="761.77" font-size="8.32" textLength="27.06" lengthAdjust="spacingAndGlyphs" fill="#000">0.0533</text>
<text x="459.70" y="631.37" font-size="8.32" textLength="27.12" lengthAdjust="spacingAndGlyphs" fill="#000">0.9414</text>
<text x="459.82" y="649.17" font-size="8.32" textLength="26.98" lengthAdjust="spacingAndGlyphs" fill="#000">0.9535</text>
<text x="459.81" y="760.91" font-size="8.32" textLength="27.07" lengthAdjust="spacingAndGlyphs" fill="#000">0.0547</text>
<text x="509.67" y="633.97" font-size="8.32" textLength="27.12" lengthAdjust="spacingAndGlyphs" fill="#000">0.9244</text>
<text x="509.77" y="649.97" font-size="8.32" textLength="27.06" lengthAdjust="spacingAndGlyphs" fill="#000">0.9483</text>
<text x="509.72" y="761.46" font-size="8.32" textLength="27.15" lengthAdjust="spacingAndGlyphs" fill="#000">0.0538</text>
<text x="559.69" y="632.35" font-size="8.32" textLength="27.12" lengthAdjust="spacingAndGlyphs" fill="#000">0.9350</text>
<text x="559.77" y="651.16" font-size="8.32" textLength="26.98" lengthAdjust="spacingAndGlyphs" fill="#000">0.9405</text>
<text x="559.69" y="757.06" font-size="8.32" textLength="27.12" lengthAdjust="spacingAndGlyphs" fill="#000">0.0610</text>
<text x="609.75" y="635.33" font-size="8.32" textLength="26.98" lengthAdjust="spacingAndGlyphs" fill="#000">0.9155</text>
<text x="609.74" y="650.67" font-size="8.32" textLength="27.07" lengthAdjust="spacingAndGlyphs" fill="#000">0.9437</text>
<text x="609.65" y="754.86" font-size="8.32" textLength="27.19" lengthAdjust="spacingAndGlyphs" fill="#000">0.0646</text>
<rect x="564.30" y="466.70" width="81.70" height="45.30" rx="2.2" fill="#fff" fill-opacity="0.8" stroke="#cccccc" stroke-width="0.9"/><path d="M567.90,474.40h19.3" stroke="#4b9d3b" stroke-width="1.455" stroke-dasharray="9.31,2.33,1.455,2.33" fill="none"/><circle cx="577.70" cy="474.40" r="3.60" fill="#4b9d3b" stroke="#4b9d3b" stroke-width="0.97"/><text x="595.04" y="477.90" font-size="10.28" textLength="37.93" lengthAdjust="spacingAndGlyphs" fill="#000">SSIM x5</text><path d="M567.90,488.70h19.3" stroke="#c673ae" stroke-width="1.455" stroke-dasharray="9.31,2.33,1.455,2.33" fill="none"/><circle cx="577.70" cy="488.70" r="3.60" fill="#c673ae" stroke="#c673ae" stroke-width="0.97"/><text x="595.03" y="492.20" font-size="10.28" textLength="35.87" lengthAdjust="spacingAndGlyphs" fill="#000">StSc x5</text><path d="M567.90,502.90h19.3" stroke="#ff1f10" stroke-width="1.455" stroke-dasharray="9.31,2.33,1.455,2.33" fill="none"/><circle cx="577.70" cy="502.90" r="3.60" fill="#ff1f10" stroke="#ff1f10" stroke-width="0.97"/><text x="594.69" y="506.40" font-size="10.28" textLength="46.89" lengthAdjust="spacingAndGlyphs" fill="#000">LPIPS x20</text>
<rect x="46.20" y="461.45" width="604.70" height="321.00" fill="none" stroke="#000" stroke-width="0.75"/>
<path d="M73.50,782.45v3.5 M123.47,782.45v3.5 M173.45,782.45v3.5 M223.43,782.45v3.5 M273.40,782.45v3.5 M323.38,782.45v3.5 M373.35,782.45v3.5 M423.32,782.45v3.5 M473.30,782.45v3.5 M523.28,782.45v3.5 M573.25,782.45v3.5 M623.23,782.45v3.5 M46.20,782.45h-3.5 M46.20,724.23h-3.5 M46.20,666.01h-3.5 M46.20,607.79h-3.5 M46.20,549.58h-3.5 M46.20,491.36h-3.5 M650.90,782.45h3.5 M650.90,721.32h3.5 M650.90,660.18h3.5 M650.90,599.05h3.5 M650.90,537.92h3.5 M650.90,476.78h3.5" stroke="#000" stroke-width="0.8" fill="none"/>
<text x="33.15" y="786.30" font-size="10.60" textLength="5.86" lengthAdjust="spacingAndGlyphs" fill="#000">0</text>
<text x="33.48" y="728.08" font-size="10.60" textLength="5.53" lengthAdjust="spacingAndGlyphs" fill="#000">5</text>
<text x="26.80" y="669.86" font-size="10.60" textLength="12.23" lengthAdjust="spacingAndGlyphs" fill="#000">10</text>
<text x="27.02" y="611.64" font-size="10.60" textLength="12.03" lengthAdjust="spacingAndGlyphs" fill="#000">15</text>
<text x="26.71" y="553.43" font-size="10.60" textLength="12.32" lengthAdjust="spacingAndGlyphs" fill="#000">20</text>
<text x="26.93" y="495.21" font-size="10.60" textLength="12.12" lengthAdjust="spacingAndGlyphs" fill="#000">25</text>
<text x="658.09" y="786.30" font-size="10.60" textLength="5.86" lengthAdjust="spacingAndGlyphs" fill="#000">0</text>
<text x="657.99" y="725.17" font-size="10.60" textLength="5.65" lengthAdjust="spacingAndGlyphs" fill="#000">2</text>
<text x="658.26" y="664.03" font-size="10.60" textLength="5.86" lengthAdjust="spacingAndGlyphs" fill="#000">4</text>
<text x="657.95" y="602.90" font-size="10.60" textLength="6.07" lengthAdjust="spacingAndGlyphs" fill="#000">6</text>
<text x="658.04" y="541.77" font-size="10.60" textLength="5.93" lengthAdjust="spacingAndGlyphs" fill="#000">8</text>
<text x="657.66" y="480.63" font-size="10.60" textLength="12.23" lengthAdjust="spacingAndGlyphs" fill="#000">10</text>
<text x="42.28" y="824.17" font-size="10.60" textLength="42.49" lengthAdjust="spacingAndGlyphs" fill="#000" transform="rotate(-45 42.99 824.17)">(5,2629)</text>
<text x="92.25" y="824.17" font-size="10.60" textLength="42.49" lengthAdjust="spacingAndGlyphs" fill="#000" transform="rotate(-45 92.96 824.17)">(3,2629)</text>
<text x="142.23" y="824.17" font-size="10.60" textLength="42.49" lengthAdjust="spacingAndGlyphs" fill="#000" transform="rotate(-45 142.94 824.17)">(1,2629)</text>
<text x="192.20" y="824.17" font-size="10.60" textLength="42.49" lengthAdjust="spacingAndGlyphs" fill="#000" transform="rotate(-45 192.91 824.17)">(5,1315)</text>
<text x="242.18" y="824.17" font-size="10.60" textLength="42.49" lengthAdjust="spacingAndGlyphs" fill="#000" transform="rotate(-45 242.89 824.17)">(3,1315)</text>
<text x="292.15" y="824.17" font-size="10.60" textLength="42.49" lengthAdjust="spacingAndGlyphs" fill="#000" transform="rotate(-45 292.86 824.17)">(1,1315)</text>
<text x="346.63" y="819.67" font-size="10.60" textLength="36.13" lengthAdjust="spacingAndGlyphs" fill="#000" transform="rotate(-45 347.33 819.67)">(5,657)</text>
<text x="396.60" y="819.67" font-size="10.60" textLength="36.13" lengthAdjust="spacingAndGlyphs" fill="#000" transform="rotate(-45 397.31 819.67)">(3,657)</text>
<text x="446.58" y="819.67" font-size="10.60" textLength="36.13" lengthAdjust="spacingAndGlyphs" fill="#000" transform="rotate(-45 447.28 819.67)">(1,657)</text>
<text x="496.55" y="819.67" font-size="10.60" textLength="36.13" lengthAdjust="spacingAndGlyphs" fill="#000" transform="rotate(-45 497.26 819.67)">(5,329)</text>
<text x="546.53" y="819.67" font-size="10.60" textLength="36.13" lengthAdjust="spacingAndGlyphs" fill="#000" transform="rotate(-45 547.23 819.67)">(3,329)</text>
<text x="596.50" y="819.67" font-size="10.60" textLength="36.13" lengthAdjust="spacingAndGlyphs" fill="#000" transform="rotate(-45 597.21 819.67)">(1,329)</text>
<text x="-9.48" y="621.98" font-size="12.35" textLength="61.36" lengthAdjust="spacingAndGlyphs" fill="#000" transform="rotate(-90 21.40 621.98)">PSNR / FID</text>
<text x="596.60" y="621.98" font-size="12.35" textLength="172.73" lengthAdjust="spacingAndGlyphs" fill="#000" transform="rotate(-90 683.00 621.98)" xml:space="preserve">SSIM x5 / StSc x5  / LPIPS x20</text>
<text x="332.34" y="837.65" font-size="12.35" textLength="32.43" lengthAdjust="spacingAndGlyphs" fill="#000">(G, S)</text>
<text x="223.10" y="455.90" font-size="14.36" textLength="246.04" lengthAdjust="spacingAndGlyphs" fill="#000">Impact of Seen Instances on Metrics</text>
<text x="348.55" y="869.85" style='font-family:"Liberation Serif", serif;font-size:18.00px' text-anchor="middle" fill="#000">(b)</text>
</svg>
</body></html>
